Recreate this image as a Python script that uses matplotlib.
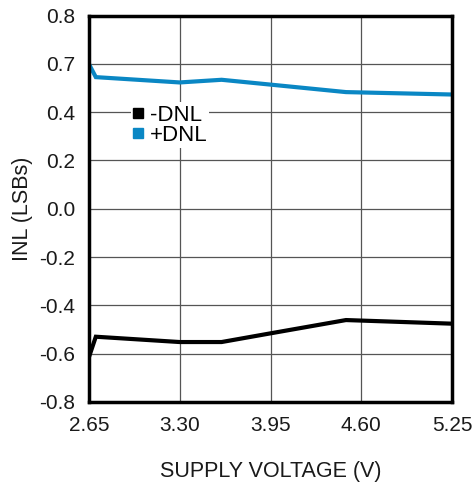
import matplotlib.pyplot as plt
from matplotlib.lines import Line2D

plt.rcParams['font.family'] = ['Liberation Sans', 'DejaVu Sans']

# supply voltage (V)
vdd = [2.65, 2.70, 3.30, 3.60, 3.95, 4.49, 5.25]
pos_dnl = [0.600, 0.545, 0.523, 0.534, 0.514, 0.483, 0.473]
neg_dnl = [-0.616, -0.530, -0.552, -0.552, -0.516, -0.461, -0.476]

xticks = [2.65, 3.30, 3.95, 4.60, 5.25]
xticklabels = ['2.65', '3.30', '3.95', '4.60', '5.25']
yticks = [0.8, 0.6, 0.4, 0.2, 0.0, -0.2, -0.4, -0.6, -0.8]
# labels as printed on the original chart
yticklabels = ['0.8', '0.7', '0.4', '0.2', '0.0', '-0.2', '-0.4', '-0.6', '-0.8']

blue = '#0a87c4'

fig = plt.figure(figsize=(4.75, 4.86), dpi=100)
ax = fig.add_axes([0.187, 0.173, 0.765, 0.795])

ax.plot(vdd, pos_dnl, color=blue, lw=3, solid_joinstyle='miter')
ax.plot(vdd, neg_dnl, color='black', lw=3, solid_joinstyle='miter')

ax.set_xlim(2.65, 5.25)
ax.set_ylim(-0.8, 0.8)
ax.set_xticks(xticks)
ax.set_xticklabels(xticklabels)
ax.set_yticks(yticks)
ax.set_yticklabels(yticklabels)
ax.tick_params(length=0, labelsize=15, colors='#1a1a1a')
ax.tick_params(axis='y', pad=10)
ax.tick_params(axis='x', pad=10)
ax.grid(True, color='#555555', lw=0.9)
ax.set_axisbelow(True)
for sp in ax.spines.values():
    sp.set_linewidth(2.5)
    sp.set_color('black')

ax.set_xlabel('SUPPLY VOLTAGE (V)', fontsize=15.5, labelpad=19, color='#1a1a1a')
ax.set_ylabel('INL (LSBs)', fontsize=15.5, labelpad=4, color='#1a1a1a')

handles = [Line2D([], [], ls='none', marker='s', ms=6.5, color='black'),
           Line2D([], [], ls='none', marker='s', ms=6.5, color=blue)]
leg = ax.legend(handles, ['-DNL', '+DNL'], loc='upper left',
                bbox_to_anchor=(0.115, 0.775), frameon=True, fontsize=16,
                handlelength=0.45, handletextpad=0.3, labelspacing=-0.05,
                borderpad=0.1, borderaxespad=0)
leg.get_frame().set_edgecolor('none')
leg.get_frame().set_facecolor('white')
leg.get_frame().set_alpha(1)

fig.savefig('out.png', dpi=100)
